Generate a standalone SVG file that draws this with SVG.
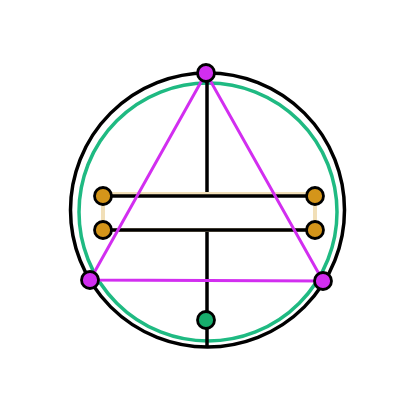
<svg xmlns="http://www.w3.org/2000/svg" width="420" height="420" viewBox="0 0 420 420">
<style>
.blk{stroke:#000;stroke-width:3.5;fill:none}
.mag{stroke:#d22ef0;stroke-width:3;fill:none}
.grn{stroke:#1fba82;stroke-width:3.5;fill:none}
.tan{stroke:#f1dfb8;stroke-width:4;fill:none}
.node{stroke:#000;stroke-width:2.8}
.nm{fill:#d22ef0}
.no{fill:#d4951a}
.ng{fill:#17ad6c}
</style>
<rect width="420" height="420" fill="#fff"/>
<g id="connectors">
<circle class="blk" cx="207.5" cy="210" r="137"/>
<circle class="grn" cx="208" cy="212" r="129"/>
<line class="blk" x1="207" y1="73" x2="207" y2="196"/>
<line class="blk" x1="207" y1="230" x2="207" y2="348"/>
<rect class="tan" x="103" y="194" width="212" height="36"/>
<line class="blk" x1="103" y1="196" x2="315" y2="196"/>
<line class="blk" x1="103" y1="230" x2="315" y2="230"/>
<polygon class="mag" points="206,73 90,280 323,281"/>
</g>
<g id="n-top"><circle class="node nm" cx="206" cy="73" r="8.5"/></g>
<g id="n-left"><circle class="node nm" cx="90" cy="280" r="8.5"/></g>
<g id="n-right"><circle class="node nm" cx="323" cy="281" r="8.5"/></g>
<g id="n-bottom"><circle class="node ng" cx="206" cy="320" r="8.5"/></g>
<g id="o1"><circle class="node no" cx="103" cy="196" r="8.5"/></g>
<g id="o2"><circle class="node no" cx="315" cy="196" r="8.5"/></g>
<g id="o3"><circle class="node no" cx="103" cy="230" r="8.5"/></g>
<g id="o4"><circle class="node no" cx="315" cy="230" r="8.5"/></g>
</svg>
